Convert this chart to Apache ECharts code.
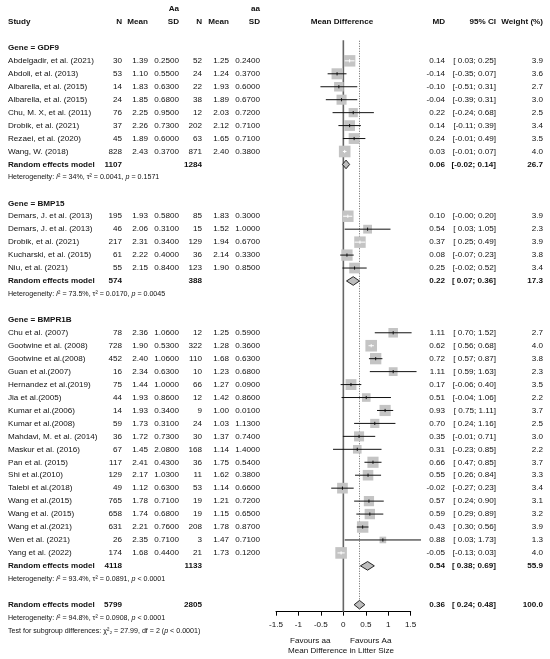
<!DOCTYPE html>
<html>
<head>
<meta charset="utf-8">
<script src="https://cdn.jsdelivr.net/npm/echarts@6/dist/echarts.min.js"></script>
<style>
  html, body { margin: 0; padding: 0; background: #fff; }
  #chart { width: 550px; height: 659px; }
</style>
</head>
<body>
<div id="chart"></div>
<script>
// ---- GDF9 ----
const gdf9Studies = ['Abdelgadir, et al. (2021)', 'Abdoli, et al. (2013)', 'Albarella, et al. (2015)', 'Albarella, et al. (2015)',
  'Chu, M. X, et al. (2011)', 'Drobik, et al. (2021)', 'Rezaei, et al. (2020)', 'Wang, W. (2018)'];
const gdf9NAa = [30, 53, 14, 24, 76, 37, 45, 828];
const gdf9MeanAa = [1.39, 1.10, 1.83, 1.85, 2.25, 2.26, 1.89, 2.43];
const gdf9SdAa = [0.25, 0.55, 0.63, 0.68, 0.95, 0.73, 0.60, 0.37];
const gdf9Naa = [52, 24, 22, 38, 12, 202, 63, 871];
const gdf9Meanaa = [1.25, 1.24, 1.93, 1.89, 2.03, 2.12, 1.65, 2.40];
const gdf9Sdaa = [0.24, 0.37, 0.60, 0.67, 0.72, 0.71, 0.71, 0.38];
const gdf9MD = [0.14, -0.14, -0.10, -0.04, 0.22, 0.14, 0.24, 0.03];
const gdf9Lo = [0.03, -0.35, -0.51, -0.39, -0.24, -0.11, -0.01, -0.01];
const gdf9Hi = [0.25, 0.07, 0.31, 0.31, 0.68, 0.39, 0.49, 0.07];
const gdf9W = [3.9, 3.6, 2.7, 3.0, 2.5, 3.4, 3.5, 4.0];
const gdf9Pooled = [1107, 1284, 0.06, -0.02, 0.14, 26.7];   // N Aa, N aa, MD, lo, hi, weight
const gdf9Het = ['34%', '0.0041', '= 0.1571'];

// ---- BMP15 ----
const bmp15Studies = ['Demars, J. et al. (2013)', 'Demars, J. et al. (2013)', 'Drobik, et al. (2021)', 'Kucharski, et al. (2015)', 'Niu, et al. (2021)'];
const bmp15NAa = [195, 46, 217, 61, 55];
const bmp15MeanAa = [1.93, 2.06, 2.31, 2.22, 2.15];
const bmp15SdAa = [0.58, 0.31, 0.34, 0.40, 0.84];
const bmp15Naa = [85, 15, 129, 36, 123];
const bmp15Meanaa = [1.83, 1.52, 1.94, 2.14, 1.90];
const bmp15Sdaa = [0.30, 1.00, 0.67, 0.33, 0.85];
const bmp15MD = [0.10, 0.54, 0.37, 0.08, 0.25];
const bmp15Lo = [-0.004, 0.03, 0.25, -0.07, -0.02];
const bmp15Hi = [0.20, 1.05, 0.49, 0.23, 0.52];
const bmp15W = [3.9, 2.3, 3.9, 3.8, 3.4];
const bmp15Pooled = [574, 388, 0.22, 0.07, 0.36, 17.3];
const bmp15Het = ['73.5%', '0.0170', '= 0.0045'];

// ---- BMPR1B ----
const bmpr1bStudies = ['Chu et al. (2007)', 'Gootwine et al. (2008)', 'Gootwine et al.(2008)', 'Guan et al.(2007)', 'Hernandez et al.(2019)',
  'Jia et al.(2005)', 'Kumar et al.(2006)', 'Kumar et al.(2008)', 'Mahdavi, M. et al. (2014)', 'Maskur et al. (2016)', 'Pan et al. (2015)',
  'Shi et al.(2010)', 'Talebi et al.(2018)', 'Wang et al.(2015)', 'Wang et al. (2015)', 'Wang et al.(2021)', 'Wen et al. (2021)', 'Yang et al. (2022)'];
const bmpr1bNAa = [78, 728, 452, 16, 75, 44, 14, 59, 36, 67, 117, 129, 49, 765, 658, 631, 26, 174];
const bmpr1bMeanAa = [2.36, 1.90, 2.40, 2.34, 1.44, 1.93, 1.93, 1.73, 1.72, 1.45, 2.41, 2.17, 1.12, 1.78, 1.74, 2.21, 2.35, 1.68];
const bmpr1bSdAa = [1.06, 0.53, 1.06, 0.63, 1.00, 0.86, 0.34, 0.31, 0.73, 2.08, 0.43, 1.03, 0.63, 0.71, 0.68, 0.76, 0.71, 0.44];
const bmpr1bNaa = [12, 322, 110, 10, 66, 12, 9, 24, 30, 168, 36, 11, 53, 19, 19, 208, 3, 21];
const bmpr1bMeanaa = [1.25, 1.28, 1.68, 1.23, 1.27, 1.42, 1.00, 1.03, 1.37, 1.14, 1.75, 1.62, 1.14, 1.21, 1.15, 1.78, 1.47, 1.73];
const bmpr1bSdaa = [0.59, 0.36, 0.63, 0.68, 0.09, 0.86, 0.01, 1.13, 0.74, 1.40, 0.54, 0.38, 0.66, 0.72, 0.65, 0.87, 0.71, 0.12];
const bmpr1bMD = [1.11, 0.62, 0.72, 1.11, 0.17, 0.51, 0.93, 0.70, 0.35, 0.31, 0.66, 0.55, -0.02, 0.57, 0.59, 0.43, 0.88, -0.05];
const bmpr1bLo = [0.70, 0.56, 0.57, 0.59, -0.06, -0.04, 0.75, 0.24, -0.01, -0.23, 0.47, 0.26, -0.27, 0.24, 0.29, 0.30, 0.03, -0.13];
const bmpr1bHi = [1.52, 0.68, 0.87, 1.63, 0.40, 1.06, 1.11, 1.16, 0.71, 0.85, 0.85, 0.84, 0.23, 0.90, 0.89, 0.56, 1.73, 0.03];
const bmpr1bW = [2.7, 4.0, 3.8, 2.3, 3.5, 2.2, 3.7, 2.5, 3.0, 2.2, 3.7, 3.3, 3.4, 3.1, 3.2, 3.9, 1.3, 4.0];
const bmpr1bPooled = [4118, 1133, 0.54, 0.38, 0.69, 55.9];
const bmpr1bHet = ['93.4%', '0.0891', '< 0.0001'];

// ---- overall ----
const overallPooled = [5799, 2805, 0.36, 0.24, 0.48, 100.0];
const overallHet = ['94.8%', '0.0908', '< 0.0001'];
const subgroupTest = ['27.99', '2', '< 0.0001'];

const xTicks = [-1.5, 1.5, 0.5]; // min, max, interval

const groups = [
  { gene: 'GDF9', s: gdf9Studies, n1: gdf9NAa, m1: gdf9MeanAa, sd1: gdf9SdAa, n2: gdf9Naa, m2: gdf9Meanaa, sd2: gdf9Sdaa, md: gdf9MD, lo: gdf9Lo, hi: gdf9Hi, w: gdf9W, pooled: gdf9Pooled, het: gdf9Het },
  { gene: 'BMP15', s: bmp15Studies, n1: bmp15NAa, m1: bmp15MeanAa, sd1: bmp15SdAa, n2: bmp15Naa, m2: bmp15Meanaa, sd2: bmp15Sdaa, md: bmp15MD, lo: bmp15Lo, hi: bmp15Hi, w: bmp15W, pooled: bmp15Pooled, het: bmp15Het },
  { gene: 'BMPR1B', s: bmpr1bStudies, n1: bmpr1bNAa, m1: bmpr1bMeanAa, sd1: bmpr1bSdAa, n2: bmpr1bNaa, m2: bmpr1bMeanaa, sd2: bmpr1bSdaa, md: bmpr1bMD, lo: bmpr1bLo, hi: bmpr1bHi, w: bmpr1bW, pooled: bmpr1bPooled, het: bmpr1bHet },
];

// column x (pixels) and alignment
const COL = { study: 8, n1: 122, m1: 148, sd1: 179, n2: 202, m2: 229, sd2: 260, mdHead: 342, md: 445, ci: 496, w: 543 };
const FS = 8.1;
const FONT = 'Liberation Sans, Arial, Helvetica, sans-serif';
const TXT = '#111';

const texts = [];   // [x, row, text, align, bold, rich]
const marks = [];   // [md, row, lo, hi, weight, kind]
const fmtCI = (lo, hi) => {
  const f = v => (v >= 0 ? ' ' : '') + v.toFixed(2);
  return '[' + f(lo) + '; ' + hi.toFixed(2) + ']';
};
const hetText = (h) => '{a|Heterogeneity: }{i|I}{a|² = ' + h[0] + ', τ² = ' + h[1] + ', }{i|p}{a| ' + h[2] + '}';

// headers
texts.push([COL.sd1, 0, 'Aa', 'right', true]);
texts.push([COL.sd2, 0, 'aa', 'right', true]);
[[COL.study, 'Study', 'left'], [COL.n1, 'N', 'right'], [COL.m1, 'Mean', 'right'], [COL.sd1, 'SD', 'right'],
 [COL.n2, 'N', 'right'], [COL.m2, 'Mean', 'right'], [COL.sd2, 'SD', 'right'], [COL.mdHead, 'Mean Difference', 'center'],
 [COL.md, 'MD', 'right'], [COL.ci, '95% CI', 'right'], [COL.w, 'Weight (%)', 'right']]
  .forEach(h => texts.push([h[0], 1, h[1], h[2], true]));

let row = 3;
groups.forEach(g => {
  texts.push([COL.study, row, 'Gene = ' + g.gene, 'left', true]);
  row++;
  g.s.forEach((name, i) => {
    texts.push([COL.study, row, name, 'left', false]);
    texts.push([COL.n1, row, String(g.n1[i]), 'right', false]);
    texts.push([COL.m1, row, g.m1[i].toFixed(2), 'right', false]);
    texts.push([COL.sd1, row, g.sd1[i].toFixed(4), 'right', false]);
    texts.push([COL.n2, row, String(g.n2[i]), 'right', false]);
    texts.push([COL.m2, row, g.m2[i].toFixed(2), 'right', false]);
    texts.push([COL.sd2, row, g.sd2[i].toFixed(4), 'right', false]);
    texts.push([COL.md, row, g.md[i].toFixed(2), 'right', false]);
    texts.push([COL.ci, row, fmtCI(g.lo[i], g.hi[i]), 'right', false]);
    texts.push([COL.w, row, g.w[i].toFixed(1), 'right', false]);
    marks.push([g.md[i], row, g.lo[i], g.hi[i], g.w[i], 0]);
    row++;
  });
  const p = g.pooled;
  texts.push([COL.study, row, 'Random effects model', 'left', true]);
  texts.push([COL.n1, row, String(p[0]), 'right', true]);
  texts.push([COL.n2, row, String(p[1]), 'right', true]);
  texts.push([COL.md, row, p[2].toFixed(2), 'right', true]);
  texts.push([COL.ci, row, fmtCI(p[3], p[4]), 'right', true]);
  texts.push([COL.w, row, p[5].toFixed(1), 'right', true]);
  marks.push([p[2], row, p[3], p[4], p[5], 1]);
  row++;
  texts.push([COL.study, row, hetText(g.het), 'left', false, true]);
  row += 2;
});
// overall
texts.push([COL.study, row, 'Random effects model', 'left', true]);
texts.push([COL.n1, row, String(overallPooled[0]), 'right', true]);
texts.push([COL.n2, row, String(overallPooled[1]), 'right', true]);
texts.push([COL.md, row, overallPooled[2].toFixed(2), 'right', true]);
texts.push([COL.ci, row, fmtCI(overallPooled[3], overallPooled[4]), 'right', true]);
texts.push([COL.w, row, overallPooled[5].toFixed(1), 'right', true]);
marks.push([overallPooled[2], row, overallPooled[3], overallPooled[4], overallPooled[5], 1]);
const overallRow = row;
row++;
texts.push([COL.study, row, hetText(overallHet), 'left', false, true]);
row++;
texts.push([COL.study, row, '{a|Test for subgroup differences: }{a|χ²₂ = ' + subgroupTest[0] + ', df = ' + subgroupTest[1] + ' (}{i|p}{a| ' + subgroupTest[2] + ')}', 'left', false, true]);

// reference lines: [x, topRow, bottomRow, dotted]
const refLines = [[0, 2.4, 46.54, 0], [overallPooled[2], 2.45, overallRow + 0.2, 1]];

const Y_MIN = -0.699, Y_MAX = 46.54;
const PLOT_H = 611.7;

const chart = echarts.init(document.getElementById('chart'));
const richStyles = {
  a: { fontSize: 7.1, fontFamily: FONT, fill: TXT, color: TXT },
  i: { fontSize: 7.1, fontFamily: FONT, fontStyle: 'italic', fill: TXT, color: TXT },
};

chart.setOption({
  animation: false,
  backgroundColor: '#fff',
  grid: [
    { left: 276, width: 134.7, top: 0, height: PLOT_H },
    { left: 0, width: 550, top: 0, height: PLOT_H },
  ],
  xAxis: [
    {
      gridIndex: 0, type: 'value', min: xTicks[0], max: xTicks[1], interval: xTicks[2],
      axisLine: { show: true, onZero: false, lineStyle: { color: '#000', width: 1 } },
      axisTick: { show: true, length: 4, lineStyle: { color: '#000' } },
      axisLabel: { fontSize: 8.1, fontFamily: FONT, color: TXT, margin: 9 },
      splitLine: { show: false },
    },
    { gridIndex: 1, type: 'value', min: 0, max: 550, show: false },
  ],
  yAxis: [
    { gridIndex: 0, type: 'value', inverse: true, min: Y_MIN, max: Y_MAX, show: false },
    { gridIndex: 1, type: 'value', inverse: true, min: Y_MIN, max: Y_MAX, show: false },
  ],
  graphic: [
    { type: 'text', left: 290, top: 637, style: { text: 'Favours aa', font: '8.1px ' + FONT, fill: TXT } },
    { type: 'text', left: 350, top: 637, style: { text: 'Favours Aa', font: '8.1px ' + FONT, fill: TXT } },
    { type: 'text', left: 288, top: 647, style: { text: 'Mean Difference in Litter Size', font: '8.1px ' + FONT, fill: TXT } },
  ],
  series: [
    // reference lines
    {
      type: 'custom', xAxisIndex: 0, yAxisIndex: 0, silent: true, z: 1,
      data: refLines,
      renderItem(params, api) {
        const a = api.coord([api.value(0), api.value(1)]);
        const b = api.coord([api.value(0), api.value(2)]);
        const dotted = api.value(3) === 1;
        return {
          type: 'line',
          shape: { x1: a[0], y1: a[1], x2: b[0], y2: b[1] },
          style: dotted ? { stroke: '#666', lineWidth: 1, lineDash: [1, 1.5] } : { stroke: '#666', lineWidth: 1.6 },
        };
      },
    },
    // squares, CIs and diamonds
    {
      type: 'custom', xAxisIndex: 0, yAxisIndex: 0, silent: true, z: 3, clip: false,
      data: marks,
      renderItem(params, api) {
        const md = api.value(0), r = api.value(1), lo = api.value(2), hi = api.value(3), w = api.value(4), kind = api.value(5);
        const c = api.coord([md, r]);
        const l = api.coord([lo, r]);
        const h = api.coord([hi, r]);
        if (kind === 1) {
          const dh = 4.3;
          return {
            type: 'polygon',
            shape: { points: [[l[0], c[1]], [c[0], c[1] - dh], [h[0], c[1]], [c[0], c[1] + dh]] },
            style: { fill: '#bdbdbd', stroke: '#111', lineWidth: 0.9 },
          };
        }
        const side = 5.8 * Math.sqrt(w);
        const inside = (h[0] - l[0]) < side;
        const col = inside ? '#ffffff' : '#111';
        return {
          type: 'group',
          children: [
            { type: 'rect', shape: { x: c[0] - side / 2, y: c[1] - side / 2, width: side, height: side }, style: { fill: '#c4c4c4' } },
            { type: 'line', shape: { x1: l[0], y1: c[1], x2: h[0], y2: c[1] }, style: { stroke: col, lineWidth: 1 } },
            { type: 'line', shape: { x1: c[0], y1: c[1] - 1.6, x2: c[0], y2: c[1] + 1.6 }, style: { stroke: col, lineWidth: 1 } },
          ],
        };
      },
    },
    // table text
    {
      type: 'custom', xAxisIndex: 1, yAxisIndex: 1, silent: true, z: 5, clip: false,
      data: texts.map(t => [t[0], t[1]]),
      renderItem(params, api) {
        const t = texts[params.dataIndex];
        const p = api.coord([t[0], t[1]]);
        const style = {
          text: t[2], align: t[3], verticalAlign: 'middle', fill: TXT,
          fontSize: FS, fontFamily: FONT, fontWeight: t[4] ? 'bold' : 'normal',
        };
        if (t[5]) style.rich = richStyles;
        return { type: 'text', x: p[0], y: p[1], style: style };
      },
    },
  ],
});
</script>
</body>
</html>
